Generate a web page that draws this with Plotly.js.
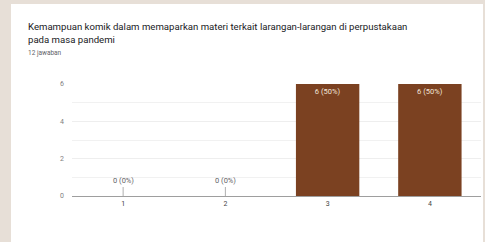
<!DOCTYPE html>
<html>
<head>
<meta charset="utf-8">
<script src="https://cdn.plot.ly/plotly-3.0.1.min.js"></script>
<style>
  html, body { margin: 0; padding: 0; width: 485px; height: 242px; background: #e7dfd7; overflow: hidden; }
  #chart { position: absolute; left: 11px; top: 4px; width: 472px; height: 238px; background: #ffffff; }
</style>
</head>
<body>
<div id="chart"></div>
<script>
const categories = ['1', '2', '3', '4'];
const counts = [0, 0, 6, 6];
const total = 12;
const yTicks = [0, 2, 4, 6];
const titleLines = ['Kemampuan komik dalam memaparkan materi terkait larangan-larangan di perpustakaan', 'pada masa pandemi'];
const subtitleText = '12 jawaban';

const labels = counts.map(v => v + ' (' + Math.round(v / total * 100) + '%)');

const trace = {
  type: 'bar',
  x: categories,
  y: counts,
  marker: { color: '#7b4121' },
  width: 0.62,
  text: counts.map((v, i) => v > 0 ? labels[i] : ''),
  textposition: 'inside',
  insidetextanchor: 'end',
  textfont: { family: 'Roboto, sans-serif', size: 7.5, color: '#f3e6da' },
  hoverinfo: 'none',
  cliponaxis: false
};

const annotations = [];
const titleShifts = [58, 45];
titleLines.forEach((t, i) => {
  annotations.push({ xref: 'paper', yref: 'paper', x: -0.113, y: 1.0, yshift: titleShifts[i], xanchor: 'left', yanchor: 'middle', align: 'left',
    text: t, showarrow: false, font: { family: 'Roboto, sans-serif', size: 9.6, color: '#202124' } });
});
annotations.push({ xref: 'paper', yref: 'paper', x: -0.113, y: 1.0, yshift: 31, xanchor: 'left', yanchor: 'middle', align: 'left',
  text: subtitleText, showarrow: false, font: { family: 'Roboto, sans-serif', size: 6.5, color: '#5f6368' } });
counts.forEach((v, i) => {
  if (v === 0) {
    annotations.push({
      x: i, y: v, xref: 'x', yref: 'y', text: labels[i],
      showarrow: true, arrowhead: 0, arrowwidth: 0.8, arrowcolor: '#9a9a9a',
      ax: 0, ay: -9, yanchor: 'bottom',
      font: { family: 'Roboto, sans-serif', size: 7.5, color: '#5f6368' }
    });
  }
});

const layout = {
  width: 472, height: 238,
  margin: { l: 61, r: 2, t: 80, b: 46 },
  paper_bgcolor: 'rgba(0,0,0,0)',
  plot_bgcolor: '#ffffff',
  showlegend: false,
  xaxis: {
    type: 'category',
    range: [-0.5, 3.5],
    showgrid: false,
    showline: false,
    zeroline: false,
    ticks: '',
    tickfont: { family: 'Roboto, sans-serif', size: 7, color: '#444' },
    ticklabelstandoff: 2
  },
  yaxis: {
    range: [0, 6],
    tickvals: yTicks,
    showgrid: true,
    gridcolor: '#eeeeee',
    gridwidth: 1,
    minor: { dtick: 1, showgrid: true, gridcolor: '#f1f1f1' },
    zeroline: true,
    zerolinecolor: '#9e9e9e',
    zerolinewidth: 1,
    showline: false,
    ticks: '',
    ticklabelstandoff: 7,
    tickfont: { family: 'Roboto, sans-serif', size: 7, color: '#808080' }
  },
  annotations: annotations
};

Plotly.newPlot('chart', [trace], layout, { displayModeBar: false, staticPlot: true });
</script>
</body>
</html>
